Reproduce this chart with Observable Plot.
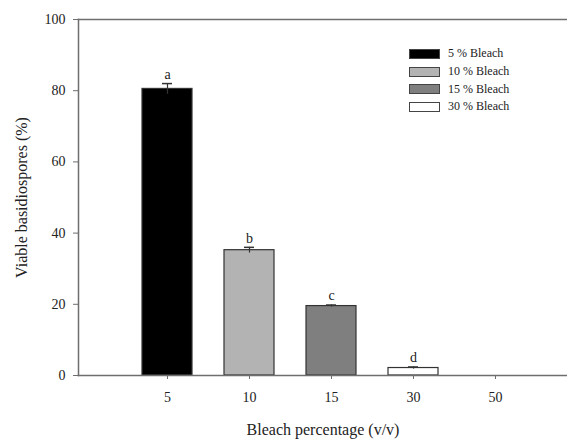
<!DOCTYPE html>
<html>
<head>
<meta charset="utf-8">
<script src="https://cdn.jsdelivr.net/npm/d3@7"></script>
<script src="https://cdn.jsdelivr.net/npm/@observablehq/plot@0.6"></script>
<style>
  html, body { margin: 0; padding: 0; background: #fff; }
  #wrap { position: relative; width: 567px; height: 441px; }
  #legend { position: absolute; left: 409px; top: 45px; font-family: 'Liberation Serif'; font-size: 12px; color: #222; }
  #legend .row { display: flex; align-items: center; height: 17.7px; font-family: 'Liberation Serif'; }
  #legend .sw { width: 31px; height: 10px; border: 1px solid #444; margin-right: 8px; box-sizing: border-box; }
</style>
</head>
<body>
<div id="wrap"><div id="legend"></div></div>
<script>
const categories = ["5", "10", "15", "30", "50"];
const values = [80.5, 35.2, 19.5, 2.1, 0];
const errors = [1.5, 0.8, 0.3, 0.3, 0];
const letters = ["a", "b", "c", "d", ""];
const fills = ["#000000", "#b3b3b3", "#7f7f7f", "#ffffff", "#ffffff"];
const legendLabels = ["5 % Bleach", "10 % Bleach", "15 % Bleach", "30 % Bleach"];
const yTicks = [0, 20, 40, 60, 80, 100];

const data = categories.map((c, i) => ({cat: c, v: values[i], e: errors[i], l: letters[i], f: fills[i]}));
const barData = data.filter(d => d.v > 0);

const chart = Plot.plot({
  width: 567,
  height: 441,
  marginLeft: 78,
  marginRight: 0,
  marginTop: 19,
  marginBottom: 66,
  style: {fontSize: "14px", color: "#222", background: "#fff"},
  x: {type: "band", domain: categories, paddingInner: 0.392, paddingOuter: 0.667, align: 0.574, label: null},
  y: {domain: [0, 100], label: null},
  marks: [
    Plot.frame({anchor: "top", stroke: "#6e6e6e", strokeWidth: 1.5}),
    Plot.frame({anchor: "left", stroke: "#6e6e6e", strokeWidth: 1.5}),
    Plot.barY(barData, {x: "cat", y: "v", fill: "f", stroke: "#333", strokeWidth: 1.2}),
    Plot.frame({anchor: "bottom", stroke: "#6e6e6e", strokeWidth: 1.5}),
    Plot.ruleX(barData, {x: "cat", y1: d => d.v - d.e, y2: d => d.v + d.e, stroke: "#333", strokeWidth: 1.2}),
    Plot.tickY(barData, {x: "cat", y: d => d.v + d.e, stroke: "#333", strokeWidth: 1.5, inset: 20}),
    Plot.text(barData, {x: "cat", y: d => d.v + d.e, text: "l", dy: -9, fontSize: 14, fill: "#222"}),
    Plot.axisY({ticks: yTicks, tickSize: 5, tickPadding: 8, stroke: "#6e6e6e", fontSize: 14,
      label: "Viable basidiospores (%)", labelAnchor: "center", labelArrow: "none", labelOffset: 63}),
    Plot.axisX({tickSize: 4, tickPadding: 13, stroke: "#6e6e6e", fontSize: 14,
      label: "Bleach percentage (v/v)", labelAnchor: "center", labelArrow: "none", labelOffset: 59})
  ]
});
chart.style.position = "absolute";
chart.style.left = "0";
chart.style.top = "0";
chart.setAttribute("font-family", "Liberation Serif");
chart.style.fontFamily = "'Liberation Serif'";
chart.querySelectorAll("text, g").forEach(t => { t.setAttribute("font-family", "Liberation Serif"); t.style.fontFamily = "'Liberation Serif'"; });
chart.querySelectorAll("[aria-label='y-axis label'] text, [aria-label='x-axis label'] text").forEach(t => t.setAttribute("font-size", "16"));
document.getElementById("wrap").prepend(chart);

const legend = document.getElementById("legend");
legendLabels.forEach((lab, i) => {
  const row = document.createElement("div");
  row.className = "row";
  const sw = document.createElement("div");
  sw.className = "sw";
  sw.style.background = fills[i];
  const tx = document.createElement("span");
  tx.textContent = lab;
  row.appendChild(sw);
  row.appendChild(tx);
  legend.appendChild(row);
});
</script>
</body>
</html>
